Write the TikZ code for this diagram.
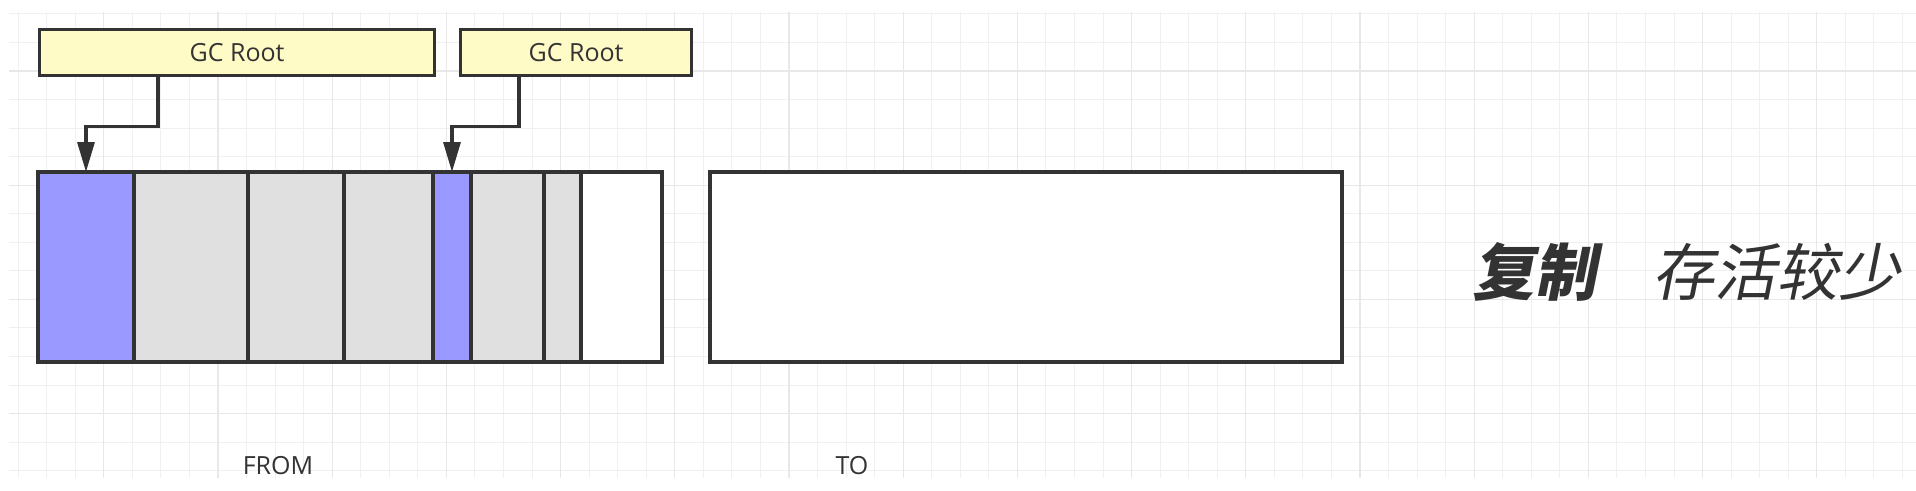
\documentclass[tikz,border=0pt]{standalone}
\usepackage{fontspec}
\setmainfont{Open Sans}
\newfontfamily\cjk[FakeSlant=0.2]{Noto Sans CJK SC}
\usetikzlibrary{arrows.meta,positioning}
\definecolor{edge}{HTML}{333333}
\definecolor{rootyellow}{HTML}{FFFBC6}
\definecolor{liveblue}{HTML}{9999FF}
\definecolor{deadgray}{HTML}{E0E0E0}
\begin{document}
\begin{tikzpicture}[x=1pt, y=-1pt,
            minorline/.style={draw=black!6, line width=1pt},
            majorline/.style={draw=black!9, line width=1.3pt},
            rootbox/.style={rectangle, draw=edge, fill=rootyellow, line width=3.2pt, minimum height=46pt, anchor=north west, inner sep=0pt, text=edge, font=\fontsize{25}{30}\selectfont},
            cellbox/.style={rectangle, draw=edge, line width=3.2pt, minimum height=190pt, anchor=north west, inner sep=0pt, outer sep=0pt},
            livecell/.style={cellbox, fill=liveblue},
            deadcell/.style={cellbox, fill=deadgray},
            freecell/.style={cellbox, fill=white},
            refarrow/.style={draw=edge, line width=3.2pt, -{Triangle[length=30pt, width=17pt]}},
            spacename/.style={text=edge, font=\fontsize{25}{30}\selectfont},
            note/.style={anchor=west, inner sep=0pt, text=edge, font=\cjk\fontsize{62}{70}\selectfont},
        ]
            \fill[white] (0,0) rectangle (1916,490);
            \begin{scope}
                \clip (9,12) rectangle (1916,478);
                \foreach \i in {0,...,66} \draw[minorline] ({18.15+28.55*\i},12) -- ++(0,466);
                \foreach \j in {0,...,16} \draw[minorline] (9,{13.9+28.55*\j}) -- ++(1907,0);
                \foreach \i in {3,7,...,63} \draw[majorline] ({18.15+28.55*\i},12) -- ++(0,466);
                \foreach \j in {2,6,10,14} \draw[majorline] (9,{13.9+28.55*\j}) -- ++(1907,0);
            \end{scope}
            \node(root1) at (38,28) [rootbox, minimum width=395pt] {GC Root};
            \node[rootbox, minimum width=231pt](root2) at (459,28) {GC Root};
            \node(live1) at (38,172) [livecell, minimum width=96pt] {};
            \node[deadcell, minimum width=114pt](dead1) at (live1.north east) {};
            \node[deadcell, minimum width=96pt](dead2) at (dead1.north east) {};
            \node[deadcell, minimum width=89pt](dead3) at (dead2.north east) {};
            \node[livecell, minimum width=38pt](live2) at (dead3.north east) {};
            \node[deadcell, minimum width=73pt](dead4) at (live2.north east) {};
            \node[deadcell, minimum width=37pt](dead5) at (dead4.north east) {};
            \node[freecell, minimum width=81pt](free1) at (dead5.north east) {};
            \draw[edge, line width=3.2pt] (live1.north west) rectangle (free1.south east);
            \node(tospace) at (710,172) [freecell, minimum width=632pt] {};
            \draw[refarrow] ([xshift=120pt]root1.south west) -- ++(0,49) -| (live1.north);
            \draw[refarrow] ([xshift=60pt]root2.south west) -- ++(0,49) -| (live2.north);
            \node[spacename](fromname) at (278,466) {FROM};
            \node[spacename](toname) at (852,466) {TO};
            \node[note](copy) at (1472,272) {\bfseries 复制};
            \node[note](fewlive) at (1652,272) {存活较少};
        \end{tikzpicture}
\end{document}
